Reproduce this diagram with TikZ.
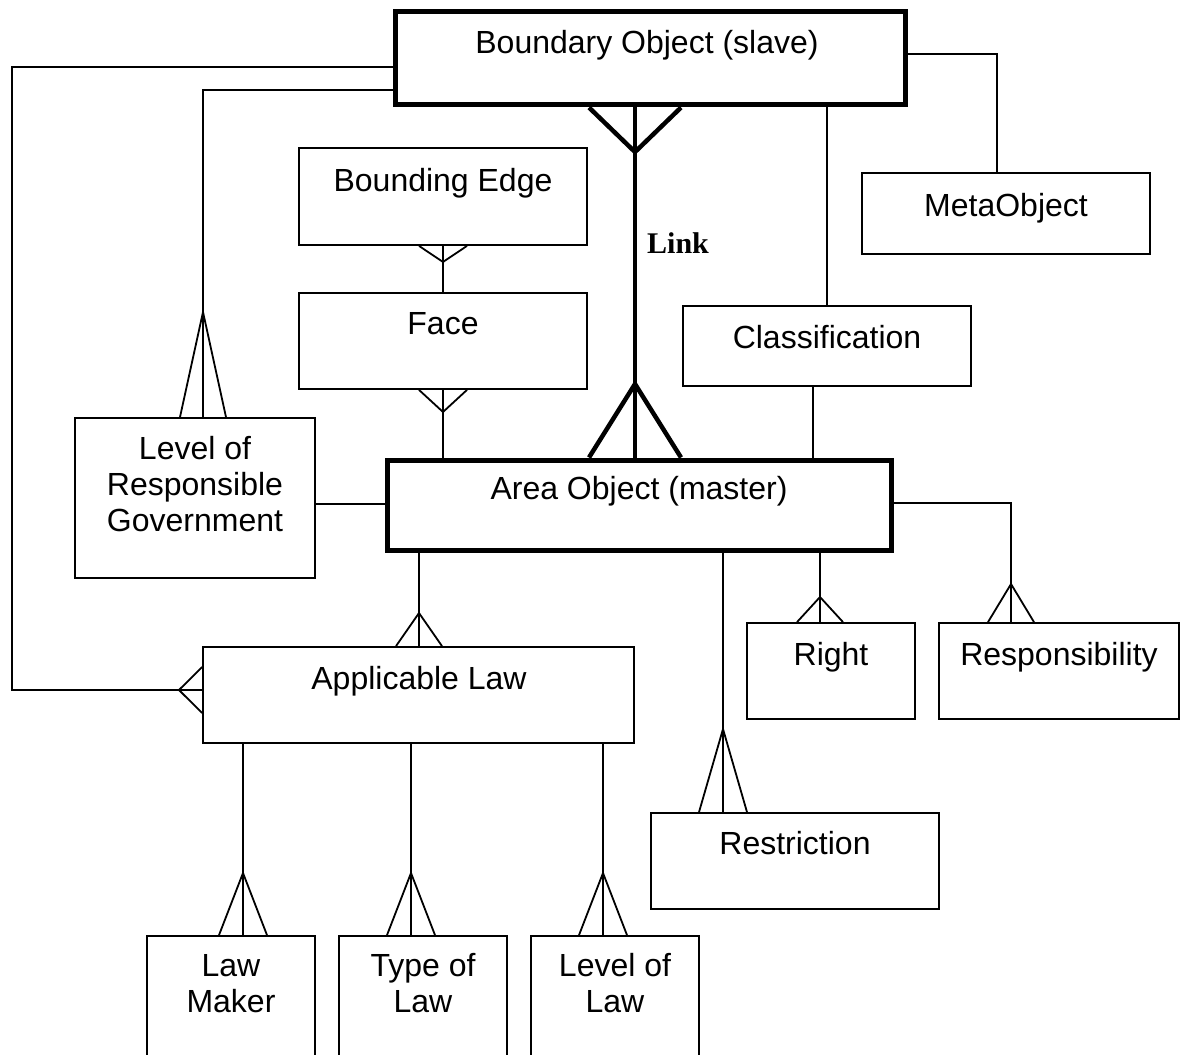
\documentclass[tikz,border=0pt]{standalone}
\usepackage{fontspec}
\setmainfont{Liberation Sans}
\newfontfamily\linkfont{Liberation Serif}
\usetikzlibrary{positioning}

\tikzset{
  ent/.style 2 args={draw, line width=1.8pt, inner sep=0pt,
    minimum width=#1pt, minimum height=#2pt},
  master/.style={line width=5pt},
  rel/.style={line width=1.8pt},
  lnk/.style={line width=4.5pt},
  txt/.style={anchor=base, align=center, inner sep=0pt,
    font=\fontsize{32}{36}\selectfont},
  lnklbl/.style={anchor=base west, inner sep=0pt,
    font=\linkfont\bfseries\fontsize{30}{36}\selectfont}
}

\begin{document}
\begin{tikzpicture}[x=1pt,y=-1pt]
\useasboundingbox (0,0) rectangle (1185,1054);
\clip (0,0) rectangle (1185,1054);

% entities
\node[ent={510}{93}, master] (bo) at (650,58.5) {};
\node[ent={504}{90}, master] (area) at (639,505) {};
\node[ent={288}{97}] (be) at (443,196.5) {};
\node[ent={288}{96}] (face) at (443,341) {};
\node[ent={288}{81}] (meta) at (1006,213.5) {};
\node[ent={288}{80}] (cls) at (827,346) {};
\node[ent={240}{160}] (lrg) at (195,498) {};
\node[ent={431}{96}] (al) at (418.5,695) {};
\node[ent={168}{96}] (right) at (831,671) {};
\node[ent={240}{96}] (resp) at (1059,671) {};
\node[ent={288}{96}] (restr) at (795,861) {};
\node[ent={168}{140}] (lm) at (231,1006) {};
\node[ent={168}{140}] (tol) at (423,1006) {};
\node[ent={168}{140}] (lol) at (615,1006) {};

% labels (base = last line)
\node[txt] (bo-t) at (647,54) {Boundary Object (slave)};
\node[txt] (area-t) at (639,499) {Area Object (master)};
\node[txt] (be-t) at (443,191) {Bounding Edge};
\node[txt] (face-t) at (443,334) {Face};
\node[txt] (meta-t) at (1006,216) {MetaObject};
\node[txt] (cls-t) at (827,348) {Classification};
\node[txt] (lrg-t) at (195,531) {Level of\\Responsible\\Government};
\node[txt] (al-t) at (419,689) {Applicable Law};
\node[txt] (right-t) at (831,665) {Right};
\node[txt] (resp-t) at (1059,665) {Responsibility};
\node[txt] (restr-t) at (795,854) {Restriction};
\node[txt] (lm-t) at (231,1012) {Law\\Maker};
\node[txt] (tol-t) at (423,1012) {Type of\\Law};
\node[txt] (lol-t) at (615,1012) {Level of\\Law};
\node[lnklbl] (link-t) at (647,253) {Link};

% master/slave link
\draw[lnk] (635,0 |- bo.south) -- (635,0 |- area.north);
\draw[lnk] (589,0 |- bo.south) -- (635,152) -- (681,0 |- bo.south);
\draw[lnk] (589,0 |- area.north) -- (635,384) -- (681,0 |- area.north);

% relationships
\draw[rel] (443,0 |- be.south) -- (443,0 |- face.north);
\draw[rel] (419,0 |- be.south) -- (443,262) -- (467,0 |- be.south);
\draw[rel] (443,0 |- face.south) -- (443,0 |- area.north);
\draw[rel] (419,0 |- face.south) -- (443,412) -- (467,0 |- face.south);

\draw[rel] (bo.west |- 0,90) -| (203,0 |- lrg.north);
\draw[rel] (180,0 |- lrg.north) -- (203,312) -- (226,0 |- lrg.north);
\draw[rel] (lrg.east |- 0,504) -- (area.west |- 0,504);

\draw[rel] (bo.west |- 0,67) -| (12,690) -- (al.west |- 0,690);
\draw[rel] (al.west |- 0,667) -- (179,690) -- (al.west |- 0,713);

\draw[rel] (bo.east |- 0,54) -| (997,0 |- meta.north);
\draw[rel] (827,0 |- bo.south) -- (827,0 |- cls.north);
\draw[rel] (813,0 |- cls.south) -- (813,0 |- area.north);

\draw[rel] (419,0 |- area.south) -- (419,0 |- al.north);
\draw[rel] (396,0 |- al.north) -- (419,613) -- (442,0 |- al.north);
\draw[rel] (820,0 |- area.south) -- (820,0 |- right.north);
\draw[rel] (797,0 |- right.north) -- (820,597) -- (843,0 |- right.north);
\draw[rel] (area.east |- 0,503) -| (1011,0 |- resp.north);
\draw[rel] (988,0 |- resp.north) -- (1011,584) -- (1034,0 |- resp.north);
\draw[rel] (723,0 |- area.south) -- (723,0 |- restr.north);
\draw[rel] (699,0 |- restr.north) -- (723,729) -- (747,0 |- restr.north);

\foreach \b/\x/\xl/\xr in {lm/243/219/267, tol/411/387/435, lol/603/579/627} {
  \draw[rel] (\x,0 |- al.south) -- (\x,0 |- \b.north);
  \draw[rel] (\xl,0 |- \b.north) -- (\x,873) -- (\xr,0 |- \b.north);
}
\end{tikzpicture}
\end{document}
